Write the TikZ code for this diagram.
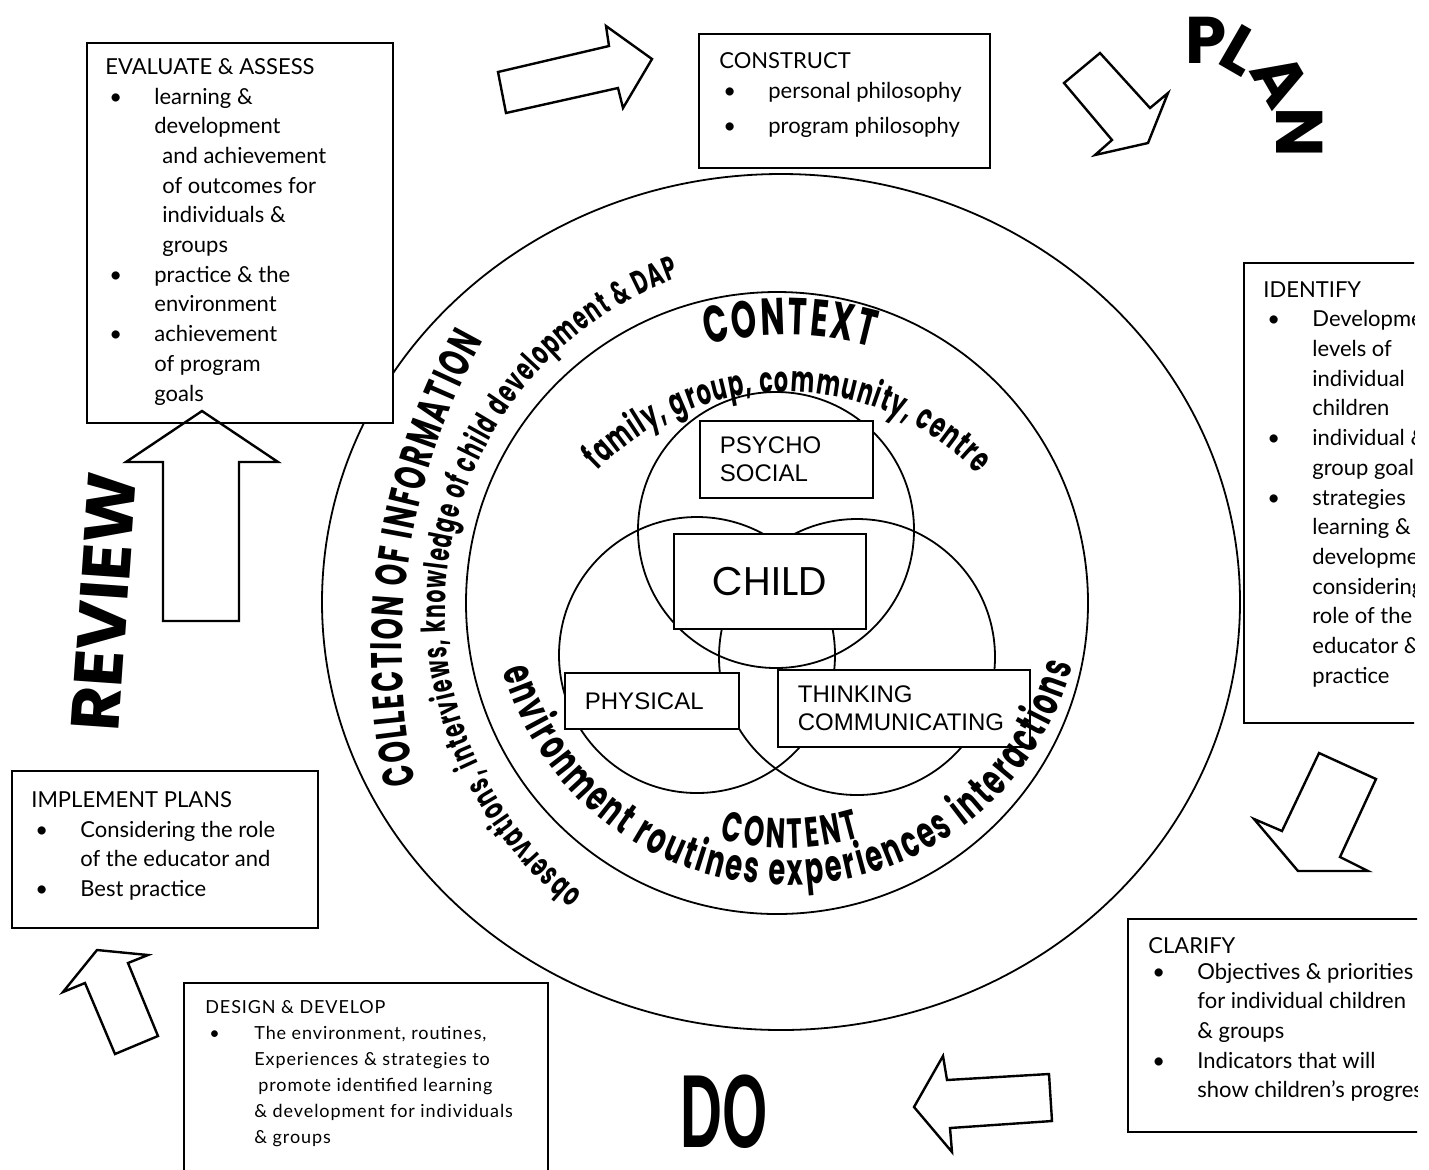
\documentclass[tikz,border=0pt]{standalone}
\usepackage{fontspec}
\setmainfont{Lato}
\setsansfont{Liberation Sans}
\newfontfamily\comic{Poppins}
\newfontfamily\wordart{Poppins}[FakeStretch=0.62]
\newfontfamily\bigdo{Liberation Sans}[FakeStretch=0.56]
\usetikzlibrary{calc,positioning}
\tikzset{
  >=stealth
}
\newcommand{\bul}{\hspace*{2pt}\makebox[22.5pt][l]{\textbullet}}
\newcommand{\ind}{\hspace*{24.5pt}}

% letters set one by one round a circle:
% centre x, centre y, radius, middle angle, sense (1 clockwise, -1 anticlockwise), extra space, font, text
\ExplSyntaxOn
\fp_new:N \l__arc_ang_fp
\fp_new:N \l__arc_step_fp
\fp_new:N \l__arc_mid_fp
\dim_new:N \l__arc_total_dim
\box_new:N \l__arc_char_box
\tl_new:N \l__arc_x_tl
\tl_new:N \l__arc_y_tl
\tl_new:N \l__arc_rot_tl
\cs_new_protected:Npn \__arc_measure:nn #1#2
  {
    \hbox_set:Nn \l__arc_char_box
      { \pgfinterruptpicture #1 #2 \endpgfinterruptpicture }
  }
\NewDocumentCommand \arcword { m m m m m m m m }
  {
    \dim_zero:N \l__arc_total_dim
    \str_map_inline:nn {#8}
      {
        \__arc_measure:nn {#7} {##1}
        \dim_add:Nn \l__arc_total_dim { \box_wd:N \l__arc_char_box + #6 pt }
      }
    \fp_set:Nn \l__arc_ang_fp
      { #4 - #5 * ( \dim_to_fp:n { \l__arc_total_dim } ) / ( #3 * 0.5 ) * 90 / pi }
    \str_map_inline:nn {#8}
      {
        \__arc_measure:nn {#7} {##1}
        \fp_set:Nn \l__arc_step_fp
          { #5 * ( \dim_to_fp:n { \box_wd:N \l__arc_char_box } + #6 ) / ( #3 * 0.5 ) * 180 / pi }
        \fp_set:Nn \l__arc_mid_fp { \l__arc_ang_fp + \l__arc_step_fp / 2 }
        \tl_set:Nx \l__arc_x_tl { \fp_eval:n { round ( #1 + #3 * cosd ( \l__arc_mid_fp ) , 2 ) } }
        \tl_set:Nx \l__arc_y_tl { \fp_eval:n { round ( #2 + #3 * sind ( \l__arc_mid_fp ) , 2 ) } }
        \tl_set:Nx \l__arc_rot_tl { \fp_eval:n { round ( - \l__arc_mid_fp - 90 * #5 , 2 ) } }
        \node [ anchor = base , inner~sep = 0pt , rotate = \l__arc_rot_tl ]
          at ( \l__arc_x_tl , \l__arc_y_tl ) { #7 ##1 } ;
        \fp_add:Nn \l__arc_ang_fp { \l__arc_step_fp }
      }
  }
\ExplSyntaxOff

\begin{document}
\begin{tikzpicture}[x=0.5pt,y=-0.5pt,
        rekt/.style={rectangle,draw,line width=0.9pt,fill=white,inner sep=0pt,anchor=north west},
        note/.style={align=left,inner sep=0pt,font=\fontsize{11}{14.85}\selectfont},
        vennbox/.style={rectangle,draw,line width=0.9pt,fill=white,anchor=north west,inner xsep=10pt,inner ysep=0pt,align=left,font=\sffamily\fontsize{12}{14}\selectfont},
        ring/.style={draw,line width=0.9pt},
        blockarrow/.style={draw,line width=1.2pt},
        planletter/.style={inner sep=0pt,font=\comic\bfseries\fontsize{33}{33}\selectfont}
      ]
      \useasboundingbox (0,0) rectangle (1429,1169);
      \clip (0,0) rectangle (1429,1169);
      \fill[white] (0,0) rectangle (1429,1169);

      % rings and venn
      \draw[ring] (781,602) ellipse[x radius=459, y radius=428];
      \draw[ring] (777,603) circle[radius=311];
      \draw[ring] (776,530) circle[radius=138];
      \draw[ring] (697,655) circle[radius=138];
      \draw[ring] (857,657) circle[radius=138];
      \node (PSY) [vennbox,minimum width=86.5pt,minimum height=38.5pt,text width=66.5pt] at (699,420) {PSYCHO\\SOCIAL};
      \node (CHILD) [vennbox,align=center,font=\comic\fontsize{20}{24}\selectfont,minimum width=96pt,minimum height=47.5pt] at (673,533) {CHILD};
      \node (PHYS) [vennbox,minimum width=87pt,minimum height=28pt,text width=67pt] at (564,672) {PHYSICAL};
      \node (THINK) [vennbox,minimum width=126pt,minimum height=38.5pt,text width=106pt] at (777,669) {THINKING\\COMMUNICATING};

      % curved words
      \arcword{786}{657}{322}{270.7}{1}{1.2}{\wordart\bfseries\fontsize{26}{26}\selectfont}{CONTEXT}
      \arcword{786}{657}{265}{270.5}{1}{0.6}{\wordart\bfseries\fontsize{18}{18}\selectfont}{family, group, community, centre}
      \arcword{787}{590}{295}{89.5}{-1}{1.25}{\wordart\bfseries\fontsize{22}{22}\selectfont}{environment routines experiences interactions}
      \arcword{787}{590}{258}{89.3}{-1}{1.5}{\wordart\bfseries\fontsize{21}{21}\selectfont}{CONTENT}
      \arcword{1038}{652}{636}{188.7}{1}{0.95}{\wordart\bfseries\fontsize{22}{22}\selectfont}{COLLECTION OF INFORMATION}
      \arcword{801}{612}{356}{189}{1}{0.65}{\wordart\bfseries\fontsize{16.5}{16.5}\selectfont}{observations, interviews, knowledge of child development & DAP}

      % boxes round the cycle
      \node (EVAL) [rekt,minimum width=153pt,minimum height=190pt] at (86,42) {};
      \node (EVALT) [note,below right=8pt and 9.5pt of EVAL.north west] {EVALUATE \& ASSESS\\
        \bul learning \&\\
        \ind development\\
        \ind\hspace*{4pt}and achievement\\
        \ind\hspace*{4pt}of outcomes for\\
        \ind\hspace*{4pt}individuals \&\\
        \ind\hspace*{4pt}groups\\
        \bul practice \& the\\
        \ind environment\\
        \bul achievement\\
        \ind of program\\
        \ind goals};
      \node (CONS) [rekt,minimum width=145.5pt,minimum height=67pt] at (698,33) {};
      \node (CONST) [note,below right=9.5pt and 10.5pt of CONS.north west] {CONSTRUCT\\
        \bul personal philosophy\\[2.8pt]
        \bul program philosophy};
      \begin{scope}
        \clip (1200,250) rectangle (1414,740);
        \node (IDEN) [rekt,minimum width=100pt,minimum height=230pt] at (1243,262) {};
        \node (IDENT) [note,below right=9.5pt and 10pt of IDEN.north west] {IDENTIFY\\
          \bul Development\\
          \ind levels of\\
          \ind individual\\
          \ind children\\
          \bul individual \&\\
          \ind group goals\\
          \bul strategies\\
          \ind learning \&\\
          \ind development\\
          \ind considering\\
          \ind role of the\\
          \ind educator \&\\
          \ind practice};
      \end{scope}
      \begin{scope}
        \clip (1100,900) rectangle (1417,1150);
        \node (CLAR) [rekt,minimum width=160pt,minimum height=106.5pt] at (1127,918) {};
        \node (CLART) [note,below right=9.5pt and 10.5pt of CLAR.north west] {CLARIFY\\[-2pt]
          \bul Objectives \& priorities\\
          \ind for individual children\\
          \ind \& groups\\
          \bul Indicators that will\\
          \ind show children's progress};
      \end{scope}
      \node (IMPL) [rekt,minimum width=153pt,minimum height=78.5pt] at (11,770) {};
      \node (IMPLT) [note,below right=10.5pt and 10pt of IMPL.north west] {IMPLEMENT PLANS\\
        \bul Considering the role\\
        \ind of the educator and\\
        \bul Best practice};
      \node (DES) [rekt,minimum width=182pt,minimum height=120pt] at (183,982) {};
      \node (DEST) [note,font=\addfontfeature{LetterSpace=5}\fontsize{9}{13}\selectfont,below right=9pt and 11pt of DES.north west] {DESIGN \& DEVELOP\\
        \bul The environment, routines,\\
        \ind Experiences \& strategies to\\
        \ind\hspace*{2pt}promote identified learning\\
        \ind \& development for individuals\\
        \ind \& groups};

      % block arrows
      \draw[blockarrow] (498,72) -- (609,46) -- (606,26) -- (652,59) -- (623,108) -- (618,88) -- (506,113) -- cycle;
      \draw[blockarrow] (1064,83) -- (1100,53) -- (1150,108) -- (1168,93) -- (1148,143) -- (1095,155) -- (1112,140) -- cycle;
      \draw[blockarrow] (1319,753) -- (1376,779) -- (1340,857) -- (1368,871) -- (1298,871) -- (1254,819) -- (1282,831) -- cycle;
      \draw[blockarrow] (1049,1074) -- (947,1080) -- (943,1056) -- (914,1107) -- (952,1152) -- (950,1128) -- (1052,1121) -- cycle;
      \draw[blockarrow] (163,621) -- (163,462) -- (126,462) -- (202,411) -- (278,462) -- (239,462) -- (239,621) -- cycle;
      \draw[blockarrow] (115,1054) -- (85,983) -- (63,992) -- (97,950) -- (148,955) -- (128,963) -- (158,1036) -- cycle;

      % stage words
      \node (PLANP) [planletter] at (1206,40) {P};
      \node (PLANL) [planletter,rotate=-30] at (1241,50) {L};
      \node (PLANA) [planletter,rotate=-60] at (1281,80) {A};
      \node (PLANN) [planletter,rotate=-90] at (1300,132) {N};
      \node (REVIEW) [rotate=86,font=\comic\bfseries\fontsize{34}{34}\selectfont] at (104,602) {REVIEW};
      \node (DO) [font=\bigdo\bfseries\fontsize{52}{52}\selectfont] at (724,1112) {DO};
    \end{tikzpicture}
\end{document}
